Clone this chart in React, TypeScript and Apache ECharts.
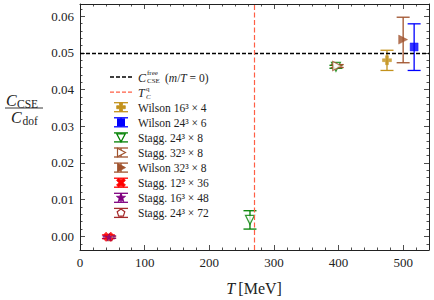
import React, { useEffect, useRef } from 'react';
import * as echarts from 'echarts';

// ---------- data ----------
const xMajorTicks = [0, 100, 200, 300, 400, 500];
const yMajorTicks = [0.0, 0.01, 0.02, 0.03, 0.04, 0.05, 0.06];
const xRange = [0, 540];
const yRange = [-0.0037, 0.0633];

// [T (MeV), C_CSE/C_dof, lower, upper]
const wilson16x4 = [[475, 0.048, 0.0452, 0.0507]];
const wilson24x6 = [[517, 0.0516, 0.0452, 0.0579]];
const stagg24x8 = [[263, 0.0045, 0.002, 0.007], [396, 0.0462, 0.0458, 0.0466]];
const stagg32x8 = [[398, 0.0464, 0.046, 0.0468]];
const wilson32x8 = [[500, 0.0536, 0.0473, 0.0597]];
const stagg12x36 = [[44, -0.0001, -0.0006, 0.0004]];
const stagg16x48 = [[45, -0.0002, -0.0005, 0.0001]];
const stagg24x72 = [[46, -0.0002, -0.0005, 0.0001]];
const freeLimit = 0.051;
const tcQ = 270;

const FONT = 'Liberation Serif';

// ---------- marker shapes ----------
const plusPath = 'path://M2,0H4V2H6V4H4V6H2V4H0V2H2Z';
const starPath = (() => {
  const pts: string[] = [];
  for (let k = 0; k < 10; k++) {
    const r = k % 2 === 0 ? 10 : 4;
    const a = ((-90 + k * 36) * Math.PI) / 180;
    pts.push(`${(r * Math.cos(a)).toFixed(2)},${(r * Math.sin(a)).toFixed(2)}`);
  }
  return 'path://M' + pts.join('L') + 'Z';
})();
const pentPath = 'path://M0,-10L9.51,-3.09L5.88,8.09L-5.88,8.09L-9.51,-3.09Z';

type Kind = 'plus' | 'square' | 'triDownOpen' | 'triRightOpen' | 'triRight' | 'x' | 'star' | 'pentOpen';

interface SeriesDef {
  name: string;
  label: string;
  data: number[][];
  color: string;
  kind: Kind;
}

const seriesDefs: SeriesDef[] = [
  { name: 'Wilson 16x4', label: 'Wilson 16³ × 4', data: wilson16x4, color: '#c3921c', kind: 'plus' },
  { name: 'Wilson 24x6', label: 'Wilson 24³ × 6', data: wilson24x6, color: '#0000ff', kind: 'square' },
  { name: 'Stagg 24x8', label: 'Stagg. 24³ × 8', data: stagg24x8, color: '#008000', kind: 'triDownOpen' },
  { name: 'Stagg 32x8', label: 'Stagg. 32³ × 8', data: stagg32x8, color: '#a0522d', kind: 'triRightOpen' },
  { name: 'Wilson 32x8', label: 'Wilson 32³ × 8', data: wilson32x8, color: '#a0522d', kind: 'triRight' },
  { name: 'Stagg 24x72', label: 'Stagg. 24³ × 72', data: stagg24x72, color: '#a52a2a', kind: 'pentOpen' },
  { name: 'Stagg 12x36', label: 'Stagg. 12³ × 36', data: stagg12x36, color: '#ff0000', kind: 'x' },
  { name: 'Stagg 16x48', label: 'Stagg. 16³ × 48', data: stagg16x48, color: '#800080', kind: 'star' },
];
const legendOrder = [0, 1, 2, 3, 4, 6, 7, 5];

function symbolFor(kind: Kind) {
  switch (kind) {
    case 'plus': return { symbol: plusPath, size: 9, rotate: 0, open: false };
    case 'square': return { symbol: 'rect', size: 8, rotate: 0, open: false };
    case 'triDownOpen': return { symbol: 'triangle', size: 9, rotate: 180, open: true };
    case 'triRightOpen': return { symbol: 'triangle', size: 9, rotate: -90, open: true };
    case 'triRight': return { symbol: 'triangle', size: 9, rotate: -90, open: false };
    case 'x': return { symbol: plusPath, size: 10, rotate: 45, open: false };
    case 'star': return { symbol: starPath, size: 7, rotate: 0, open: false };
    case 'pentOpen': return { symbol: pentPath, size: 7, rotate: 0, open: true };
  }
}

// legend marker graphics
function legendMarker(kind: Kind, cx: number, cy: number, color: string): any {
  const filled = { fill: color, stroke: color, lineWidth: 0.8 };
  const open = { fill: '#fff', stroke: color, lineWidth: 1.2 };
  const poly = (pts: number[][], st: any) => ({ type: 'polygon', shape: { points: pts }, style: st });
  const plusPts = (s: number, w: number) => [
    [-w, -s], [w, -s], [w, -w], [s, -w], [s, w], [w, w], [w, s], [-w, s], [-w, w], [-s, w], [-s, -w], [-w, -w],
  ];
  switch (kind) {
    case 'plus':
      return poly(plusPts(4.3, 1.5).map(([x, y]) => [cx + x, cy + y]), filled);
    case 'x': {
      const c = Math.SQRT1_2;
      return poly(plusPts(4.8, 1.5).map(([x, y]) => [cx + (x - y) * c, cy + (x + y) * c]), filled);
    }
    case 'square':
      return { type: 'rect', shape: { x: cx - 4, y: cy - 4, width: 8, height: 8 }, style: { fill: color } };
    case 'triDownOpen':
      return poly([[cx - 4.3, cy - 3.5], [cx + 4.3, cy - 3.5], [cx, cy + 4.5]], open);
    case 'triRightOpen':
      return poly([[cx - 3.5, cy - 4.3], [cx + 4.5, cy], [cx - 3.5, cy + 4.3]], open);
    case 'triRight':
      return poly([[cx - 3.5, cy - 4.3], [cx + 4.5, cy], [cx - 3.5, cy + 4.3]], filled);
    case 'star': {
      const pts: number[][] = [];
      for (let k = 0; k < 10; k++) {
        const r = k % 2 === 0 ? 4.8 : 2;
        const a = ((-90 + k * 36) * Math.PI) / 180;
        pts.push([cx + r * Math.cos(a), cy + r * Math.sin(a)]);
      }
      return poly(pts, filled);
    }
    case 'pentOpen': {
      const pts: number[][] = [];
      for (let k = 0; k < 5; k++) {
        const a = ((-90 + k * 72) * Math.PI) / 180;
        pts.push([cx + 4 * Math.cos(a), cy + 4 * Math.sin(a)]);
      }
      return poly(pts, open);
    }
  }
}

function minorTicks(major: number[], n: number, lo: number, hi: number, scale: number) {
  const step = Math.round(((major[1] - major[0]) / n) * scale);
  const res: number[] = [];
  const start = Math.ceil((lo * scale) / step) * step;
  for (let v = start; v <= hi * scale + 1e-9; v += step) {
    const val = v / scale;
    if (!major.some((m) => Math.abs(m - val) < 1e-9) && val > lo && val < hi) res.push(val);
  }
  return res;
}

const xMinor = minorTicks(xMajorTicks, 5, xRange[0], xRange[1], 1);
const yMinor = minorTicks(yMajorTicks, 5, yRange[0], yRange[1], 100000);

export default function App() {
  const ref = useRef<HTMLDivElement>(null);
  useEffect(() => {
    if (!ref.current) return;
    const chart = echarts.init(ref.current, null, { renderer: 'svg' });
    const axisColor = '#222';
    const labelStyle = { color: '#222', fontFamily: FONT, fontSize: 13, fontWeight: 'normal' as const };
    const mkX = (pos: 'bottom' | 'top', ticks: number[], len: number, labels: boolean, line: boolean) => ({
      type: 'value', min: xRange[0], max: xRange[1], position: pos,
      axisLine: { show: line, onZero: false, lineStyle: { color: axisColor, width: 1 } },
      axisTick: { show: true, inside: true, length: len, customValues: ticks, lineStyle: { color: axisColor, width: 0.8 } },
      axisLabel: labels
        ? { show: true, customValues: ticks, margin: 6, ...labelStyle }
        : { show: false },
      splitLine: { show: false },
    });
    const mkY = (pos: 'left' | 'right', ticks: number[], len: number, labels: boolean, line: boolean) => ({
      type: 'value', min: yRange[0], max: yRange[1], position: pos,
      axisLine: { show: line, onZero: false, lineStyle: { color: axisColor, width: 1 } },
      axisTick: { show: true, inside: true, length: len, customValues: ticks, lineStyle: { color: axisColor, width: 0.8 } },
      axisLabel: labels
        ? {
            show: true, customValues: ticks, margin: 6, ...labelStyle,
            formatter: (v: number) => v.toFixed(2),
          }
        : { show: false },
      splitLine: { show: false },
    });

    const series: any[] = [];
    seriesDefs.forEach((d) => {
      series.push({
        type: 'custom',
        name: d.name + ' err',
        data: d.data,
        z: 3,
        renderItem: (params: any, api: any) => {
          const x = api.value(0);
          const lo = api.coord([x, api.value(2)]);
          const hi = api.coord([x, api.value(3)]);
          const cw = 6.5;
          const st = { stroke: d.color, lineWidth: 1.3 };
          return {
            type: 'group',
            children: [
              { type: 'line', shape: { x1: lo[0], y1: lo[1], x2: hi[0], y2: hi[1] }, style: st },
              { type: 'line', shape: { x1: lo[0] - cw, y1: lo[1], x2: lo[0] + cw, y2: lo[1] }, style: st },
              { type: 'line', shape: { x1: hi[0] - cw, y1: hi[1], x2: hi[0] + cw, y2: hi[1] }, style: st },
            ],
          };
        },
      });
      const s = symbolFor(d.kind)!;
      series.push({
        type: 'scatter',
        name: d.name,
        data: d.data.map((p) => [p[0], p[1]]),
        symbol: s.symbol,
        symbolSize: s.size,
        symbolRotate: s.rotate,
        z: 4,
        itemStyle: s.open
          ? { color: '#ffffff', borderColor: d.color, borderWidth: 1.2 }
          : { color: d.color, borderColor: d.color, borderWidth: 0.5 },
      });
    });
    series.push({
      type: 'line',
      name: 'free',
      data: [],
      markLine: {
        silent: true,
        symbol: 'none',
        label: { show: false },
        animation: false,
        data: [
          { yAxis: freeLimit, lineStyle: { color: '#000', type: [4, 2], width: 1.3 } },
          { xAxis: tcQ, lineStyle: { color: '#ff5f45', type: [5, 2.5], width: 1.2 } },
        ],
      },
    });

    // legend
    const lx = 121, tx = 138, ly0 = 77, step = 15.1;
    const g: any[] = [];
    const txt = (x: number, y: number, text: string, size: number, italic = false, extra: any = {}) => ({
      type: 'text', x, y,
      style: {
        text, fill: '#222', fontFamily: FONT, fontSize: size, fontStyle: italic ? 'italic' : 'normal',
        align: 'left', verticalAlign: 'middle', ...extra,
      },
    });
    // entry 0: free limit
    g.push({ type: 'line', shape: { x1: 110, y1: ly0, x2: 133, y2: ly0 }, style: { stroke: '#000', lineWidth: 1.3, lineDash: [4, 2] } });
    g.push(txt(tx, ly0 + 0.5, 'C', 12, true));
    g.push(txt(tx + 9, ly0 - 4.5, 'free', 7));
    g.push(txt(tx + 9, ly0 + 3.6, 'CSE', 7));
    g.push({
      type: 'text', x: tx + 27, y: ly0 + 0.5,
      style: {
        text: '{n|(}{i|m}{n|/}{i|T}{n| = 0)}', verticalAlign: 'middle', align: 'left',
        rich: {
          n: { fontFamily: FONT, fontSize: 11.5, fill: '#222' },
          i: { fontFamily: FONT, fontSize: 11.5, fontStyle: 'italic', fill: '#222' },
        },
      },
    });
    // entry 1: Tc
    const y1 = ly0 + step;
    g.push({ type: 'line', shape: { x1: 110, y1: y1, x2: 133, y2: y1 }, style: { stroke: '#ff5f45', lineWidth: 1.2, lineDash: [4, 2] } });
    g.push(txt(tx, y1 + 0.5, 'T', 12, true));
    g.push(txt(tx + 8, y1 - 3.6, 'q', 7));
    g.push(txt(tx + 8, y1 + 4.5, 'C', 7, true));
    legendOrder.forEach((si, i) => {
      const d = seriesDefs[si];
      const y = ly0 + step * (i + 2);
      const st = { stroke: d.color, lineWidth: 1.3 };
      g.push({ type: 'line', shape: { x1: lx, y1: y - 4.5, x2: lx, y2: y + 4.5 }, style: st });
      g.push({ type: 'line', shape: { x1: lx - 7, y1: y - 4.5, x2: lx + 7, y2: y - 4.5 }, style: st });
      g.push({ type: 'line', shape: { x1: lx - 7, y1: y + 4.5, x2: lx + 7, y2: y + 4.5 }, style: st });
      g.push(legendMarker(d.kind, lx, y, d.color));
      g.push(txt(tx, y + 0.5, d.label, 11.5));
    });

    // y axis title (fraction)
    g.push(txt(6, 100, 'C', 16, true));
    g.push(txt(17, 104, 'CSE', 11.5));
    g.push({ type: 'line', shape: { x1: 5, y1: 108, x2: 43, y2: 108 }, style: { stroke: '#222', lineWidth: 0.9 } });
    g.push(txt(11, 117, 'C', 16, true));
    g.push(txt(22.5, 121, 'dof', 11.5));
    // x axis title
    g.push({
      type: 'text', x: 254, y: 288,
      style: {
        text: '{i|T} {n|[MeV]}', align: 'center', verticalAlign: 'middle',
        rich: {
          n: { fontFamily: FONT, fontSize: 16, fill: '#222' },
          i: { fontFamily: FONT, fontSize: 16, fontStyle: 'italic', fill: '#222' },
        },
      },
    });

    chart.setOption({
      animation: false,
      backgroundColor: '#fff',
      textStyle: { fontFamily: FONT, fontSize: 13 },
      grid: { left: 80, right: 5, top: 4, bottom: 50 },
      xAxis: [
        mkX('bottom', xMajorTicks, 5, true, true),
        mkX('bottom', xMinor, 2.5, false, false),
        mkX('top', xMajorTicks, 5, false, true),
        mkX('top', xMinor, 2.5, false, false),
      ],
      yAxis: [
        mkY('left', yMajorTicks, 5, true, true),
        mkY('left', yMinor, 2.5, false, false),
        mkY('right', yMajorTicks, 5, false, true),
        mkY('right', yMinor, 2.5, false, false),
      ],
      series,
      graphic: g,
    });
    return () => chart.dispose();
  }, []);
  return <div ref={ref} style={{ width: 434, height: 300, position: 'absolute', left: 0, top: 0 }} />;
}
